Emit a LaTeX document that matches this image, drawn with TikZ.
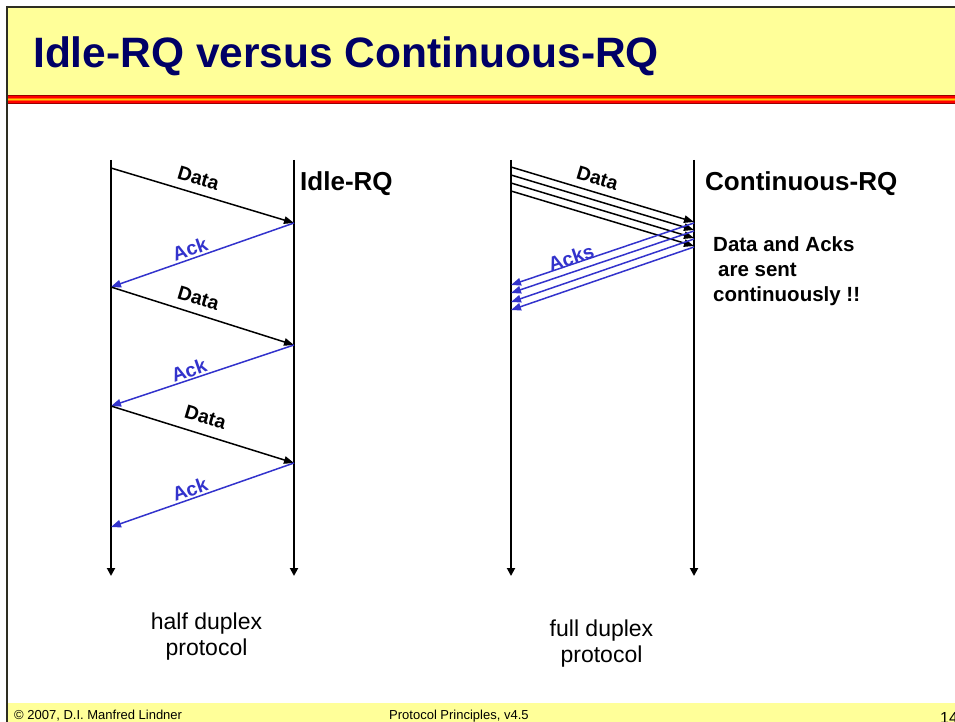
\documentclass[tikz,border=0pt]{standalone}
\usepackage{fontspec}
\setmainfont{Liberation Sans}
\usetikzlibrary{arrows.meta}
\definecolor{hdr}{HTML}{FFFF99}
\definecolor{navy}{HTML}{000066}
\definecolor{ackblue}{HTML}{3333CC}
\definecolor{framecol}{HTML}{2E2E22}
\definecolor{sdark}{HTML}{990000}
\definecolor{sred}{HTML}{FF0000}
\definecolor{sorange}{HTML}{FF6600}
\definecolor{syellow}{HTML}{FFCC00}
\begin{document}
\begin{tikzpicture}[x=1pt,y=-1pt,
  lane/.style={line width=1.9pt,-{Triangle[length=8pt,width=8pt]}},
  dmsg/.style={line width=1.5pt,-{Triangle[length=10pt,width=7.5pt]}},
  amsg/.style={line width=1.5pt,draw=ackblue,-{Triangle[length=10pt,width=7.5pt]},fill=ackblue},
  lbl/.style={font=\fontsize{19.5}{19.5}\selectfont\bfseries,inner sep=0pt},
  dlbl/.style={lbl,rotate=-16.7},
  albl/.style={lbl,text=ackblue,rotate=19.3},
  head/.style={font=\fontsize{26}{26}\selectfont\bfseries,inner sep=0pt,anchor=base west},
  info/.style={font=\fontsize{20.5}{20.5}\selectfont\bfseries,inner sep=0pt,anchor=base west},
  note/.style={font=\fontsize{23}{23}\selectfont,inner sep=0pt,anchor=base},
  foot/.style={font=\fontsize{13}{13}\selectfont,inner sep=0pt,anchor=base west}
]
\useasboundingbox (0,0) rectangle (955,722);
% header
\fill[hdr] (8,8) rectangle (955,95);
\fill[sdark] (8,95) rectangle (955,96.3);
\fill[sred] (8,96.3) rectangle (955,97.6);
\fill[sorange] (8,97.6) rectangle (955,98.9);
\fill[syellow] (8,98.9) rectangle (955,100.2);
\fill[sorange] (8,100.2) rectangle (955,101.5);
\fill[sred] (8,101.5) rectangle (955,102.8);
\fill[sdark] (8,102.8) rectangle (955,104);
% footer band
\fill[hdr] (8,703) rectangle (955,722);
% frame
\draw[framecol,line width=2pt] (6,7) -- (955,7);
\draw[framecol,line width=2.5pt] (7,6) -- (7,722);
% title
\node[font=\fontsize{42.5}{42.5}\selectfont\bfseries,text=navy,inner sep=0pt,anchor=base west] (title) at (33,68) {Idle-RQ versus Continuous-RQ};

% ---------- Idle-RQ ----------
\coordinate (At) at (111,160); \coordinate (Ab) at (111,576);
\coordinate (Bt) at (294,160); \coordinate (Bb) at (294,576);
\draw[lane] (At) -- (Ab);
\draw[lane] (Bt) -- (Bb);
\coordinate (a0) at (111,168);
\coordinate (b0) at (294,223);
\coordinate (a1) at (111,287);
\coordinate (b1) at (294,345);
\coordinate (a2) at (111,406);
\coordinate (b2) at (294,463);
\coordinate (a3) at (111,527);
\draw[dmsg] (a0) -- (b0);
\draw[amsg] (b0) -- (a1);
\draw[dmsg] (a1) -- (b1);
\draw[amsg] (b1) -- (a2);
\draw[dmsg] (a2) -- (b2);
\draw[amsg] (b2) -- (a3);
\node[dlbl] (d0) at (198.5,178) {Data};
\node[dlbl] (d1) at (198.5,298) {Data};
\node[dlbl] (d2) at (205.5,417.5) {Data};
\node[albl] (k0) at (190,249) {Ack};
\node[albl] (k1) at (189,370.5) {Ack};
\node[albl] (k2) at (190,489.5) {Ack};
\node[head] (idle) at (300,191) {Idle-RQ};
\node[note] (hd1) at (206.5,629) {half duplex};
\node[note] (hd2) at (206.5,655) {protocol};

% ---------- Continuous-RQ ----------
\coordinate (Ct) at (511,160); \coordinate (Cb) at (511,576);
\coordinate (Dt) at (694,160); \coordinate (Db) at (694,576);
\draw[lane] (Ct) -- (Cb);
\draw[lane] (Dt) -- (Db);
\foreach \i/\ys/\ye in {0/167/222,1/175/230,2/183/238,3/191/246}{
  \coordinate (cs\i) at (511,\ys);
  \coordinate (de\i) at (694,\ye);
  \draw[dmsg] (cs\i) -- (de\i);
}
\foreach \i/\ys/\ye in {0/223/285,1/231/293,2/239/302,3/247/310}{
  \coordinate (ds\i) at (694,\ys);
  \coordinate (ce\i) at (511,\ye);
  \draw[amsg] (ds\i) -- (ce\i);
}
\node[dlbl] (cd) at (597.5,178) {Data};
\node[albl,rotate=-0.6] (ck) at (571,257.5) {Acks};
\node[head] (cont) at (705,190) {Continuous-RQ};
\node[info] (i1) at (713,251.7) {Data and Acks};
\node[info] (i2) at (718,276.7) {are sent};
\node[info] (i3) at (713,301.7) {continuously !!};
\node[note] (fd1) at (601.5,636) {full duplex};
\node[note] (fd2) at (601.5,662) {protocol};

% footer texts
\node[foot] (f1) at (14,719) {© 2007, D.I. Manfred Lindner};
\node[foot] (f2) at (389,719) {Protocol Principles, v4.5};
\node[foot,font=\fontsize{16}{16}\selectfont] (f3) at (940,723) {14};
\end{tikzpicture}
\end{document}
